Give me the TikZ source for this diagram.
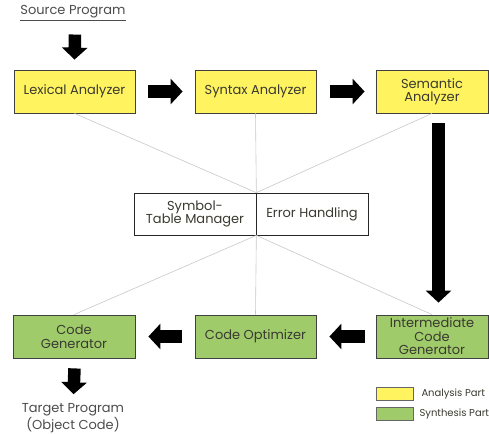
\documentclass[tikz,border=0pt]{standalone}
\usepackage{fontspec}
\setmainfont{Poppins}
\usetikzlibrary{arrows.meta,calc}
\definecolor{ayellow}{HTML}{FFF35F}
\definecolor{sgreen}{HTML}{9FCB6B}
\definecolor{txt}{HTML}{3A3A30}
\definecolor{gline}{HTML}{C8C8C8}
\begin{document}
\begin{tikzpicture}[x=1pt,y=-1pt,
  font=\fontsize{13}{13.5}\selectfont,
  box/.style={draw=black!75, line width=0.8pt, minimum height=43pt, inner sep=0pt, align=center, text=txt},
  ybox/.style={box, fill=ayellow},
  gbox/.style={box, fill=sgreen},
  wbox/.style={draw=black!85, line width=0.7pt, fill=white, minimum height=42pt, inner sep=0pt, align=center, text=txt},
  barrow/.style={line width=12.5pt, -{Triangle[length=12pt,width=25pt]}},
  gray line/.style={draw=gline, line width=0.6pt},
  lbl/.style={inner sep=0pt, text=black!70, align=center}]
\useasboundingbox (0,0) rectangle (489,433);

% analysis row
\node[ybox, minimum width=121pt] (lex) at (74.5,91.5) {Lexical Analyzer};
\node[ybox, minimum width=121pt] (syn) at (255.5,91.5) {Syntax Analyzer};
\node[ybox, minimum width=112pt] (sem) at (432,91.5) {Semantic\\Analyzer};

% synthesis row
\node[gbox, minimum width=122pt] (cg) at (74,336.5) {Code\\Generator};
\node[gbox, minimum width=121pt] (co) at (255.5,336.5) {Code Optimizer};
\node[gbox, minimum width=112pt] (ic) at (432,336.5) {Intermediate\\Code\\Generator};

% middle
\node[wbox, minimum width=122pt] (sym) at (195,214) {Symbol-\\Table Manager};
\node[wbox, minimum width=112pt] (err) at (312,214) {Error Handling};

% thin gray connectors
\draw[gray line] (lex.south) -- (sym.north east);
\draw[gray line] (syn.south) -- (sym.north east);
\draw[gray line] (sem.south) -- (sym.north east);
\draw[gray line] (cg.north) -- (sym.south east);
\draw[gray line] (co.north) -- (sym.south east);
\draw[gray line] (ic.north) -- (sym.south east);

% source and target
\node[lbl] (src) at (73,13) {\underline{Source Program}};
\node[lbl] (tgt) at (73,419) {Target Program\\\underline{(Object Code)}};

% block arrows
\draw[barrow] ($(src.south)+(2,14)$) -- ($(lex.north)+(0,-10)$);
\draw[barrow] ($(lex.east)+(13,0)$) -- ($(syn.west)+(-12,0)$);
\draw[barrow] ($(syn.east)+(14,0)$) -- ($(sem.west)+(-11,0)$);
\draw[barrow] ($(sem.south)+(6.5,10)$) -- ($(ic.north)+(6.5,-12)$);
\draw[barrow] ($(ic.west)+(-11,0)$) -- ($(co.east)+(13,0)$);
\draw[barrow] ($(co.west)+(-13,0)$) -- ($(cg.east)+(13,0)$);
\draw[barrow] ($(cg.south)+(0.5,10)$) -- ($(tgt.north)+(0.5,-9)$);

% legend
\node[draw=black!60, line width=0.6pt, fill=ayellow, minimum width=37pt, minimum height=13pt, inner sep=0pt] (ly) at (394.5,393.5) {};
\node[draw=black!60, line width=0.6pt, fill=sgreen, minimum width=37pt, minimum height=13pt, inner sep=0pt] (lg) at (394.5,413.5) {};
\node[anchor=west, inner sep=0pt, text=txt, font=\fontsize{10}{11}\selectfont] (lyt) at ($(ly.east)+(8,0)$) {Analysis Part};
\node[anchor=west, inner sep=0pt, text=txt, font=\fontsize{10}{11}\selectfont] (lgt) at ($(lg.east)+(6,0)$) {Synthesis Part};
\end{tikzpicture}
\end{document}
